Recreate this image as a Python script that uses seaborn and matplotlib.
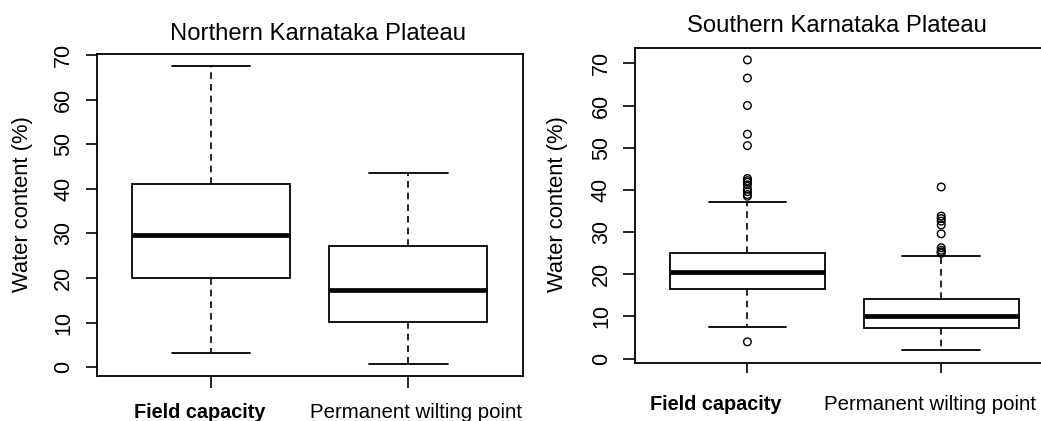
import numpy as np
import pandas as pd
import matplotlib
matplotlib.use("Agg")
import matplotlib.pyplot as plt
import matplotlib.transforms as mtransforms
import seaborn as sns

# ---- data ----
categories = ["Field capacity", "Permanent wilting point"]
# five-number summaries: lower whisker, Q1, median, Q3, upper whisker
north_fc = [3.1, 20.0, 29.7, 41.2, 67.5]
north_pwp = [0.8, 10.2, 17.4, 27.1, 43.6]
south_fc = [7.5, 16.6, 20.6, 25.0, 37.2]
south_pwp = [2.1, 7.2, 10.1, 14.1, 24.4]
north_fc_outliers = []
north_pwp_outliers = []
south_fc_outliers = [4.0, 38.5, 38.9, 39.6, 40.2, 41.2, 41.8, 42.2, 42.7,
                     50.5, 53.2, 60.0, 66.5, 70.8]
south_pwp_outliers = [25.0, 25.3, 25.7, 26.3, 29.6, 31.7, 32.6, 33.2, 33.8, 40.7]
titles = ["Northern Karnataka Plateau", "Southern Karnataka Plateau"]
ylabel = "Water content (%)"
yticks = [0, 10, 20, 30, 40, 50, 60, 70]

sns.set_theme(style="white")
plt.rcParams["font.family"] = ["Liberation Sans", "DejaVu Sans"]
plt.rcParams["text.color"] = "black"
plt.rcParams["axes.labelcolor"] = "black"

fig = plt.figure(figsize=(10.41, 4.21), dpi=100)
W, H = 1041, 421


def px_axes(x0, y0, x1, y1):
    return fig.add_axes([x0 / W, 1 - y1 / H, (x1 - x0) / W, (y1 - y0) / H])


ax1 = px_axes(96.7, 53.7, 522.5, 376.0)
ax2 = px_axes(635.0, 47.7, 1053.6, 362.7)

panels = [
    dict(ax=ax1, boxes=[north_fc, north_pwp], out=[north_fc_outliers, north_pwp_outliers],
         ylim=(-2.0, 70.36), title=titles[0], tx=0.5186, ty=1.0425,
         lx=-0.174, ly=0.534, xtick_len=8.6, xpad=11, ytick_len=7.7, ypad=8.6,
         xoffs=[-11, 8]),
    dict(ax=ax2, boxes=[south_fc, south_pwp], out=[south_fc_outliers, south_pwp_outliers],
         ylim=(-0.95, 73.7), title=titles[1], tx=0.4818, ty=1.05,
         lx=-0.184, ly=0.504, xtick_len=7.4, xpad=16, ytick_len=8.6, ypad=8.0,
         xoffs=[-32, -11]),
]

for p in panels:
    ax = p["ax"]
    box_df = pd.DataFrame({
        "group": [c for c, b in zip(categories, p["boxes"]) for _ in b],
        "value": [v for b in p["boxes"] for v in b],
    })
    sns.boxplot(data=box_df, x="group", y="value", order=categories, ax=ax,
                whis=(0, 100), width=0.8, color="white", linecolor="black",
                linewidth=1.3, showfliers=False,
                medianprops=dict(linewidth=3.4, color="black"),
                whiskerprops=dict(linestyle=(0, (4.0, 3.0)), linewidth=1.2),
                capprops=dict(linewidth=1.3),
                boxprops=dict(linewidth=1.3))
    out_df = pd.DataFrame({
        "group": [c for c, o in zip(categories, p["out"]) for _ in o],
        "value": [v for o in p["out"] for v in o],
    })
    if len(out_df):
        sns.stripplot(data=out_df, x="group", y="value", order=categories, ax=ax,
                      jitter=False, marker="o", size=5.5, color="none",
                      edgecolor="black", linewidth=1.0, zorder=5)
    ax.set_xlim(-0.58, 1.58)
    ax.set_ylim(*p["ylim"])
    ax.set_yticks(yticks)
    ax.set_yticklabels([str(t) for t in yticks])
    ax.set_xlabel("")
    ax.set_ylabel(ylabel, fontsize=15.8, va="center", color="black")
    ax.yaxis.set_label_coords(p["lx"], p["ly"])
    ax.set_title(p["title"], fontsize=17.2, x=p["tx"], y=p["ty"], va="baseline",
                 pad=0, color="black")
    for s in ax.spines.values():
        s.set_visible(True)
        s.set_color("black")
        s.set_linewidth(1.3)
    ax.tick_params(axis="y", which="major", left=True, length=p["ytick_len"],
                   width=1.2, color="black", pad=p["ypad"], labelsize=15.5,
                   labelrotation=90, labelcolor="black")
    ax.tick_params(axis="x", which="major", bottom=True, length=p["xtick_len"],
                   width=1.2, color="black", pad=p["xpad"], labelsize=14.7,
                   labelcolor="black")
    for lbl in ax.get_yticklabels():
        lbl.set_va("center")
    ax.set_xticks([0, 1])
    ax.set_xticklabels(categories)
    xl = ax.get_xticklabels()
    xl[0].set_fontweight("bold")
    xl[0].set_fontsize(14.3)
    for lbl, dx in zip(xl, p["xoffs"]):
        lbl.set_transform(lbl.get_transform() +
                          mtransforms.ScaledTranslation(dx / 100, 0, fig.dpi_scale_trans))
    ax.grid(False)
    ax.set_facecolor("white")

fig.savefig("out.png", dpi=100, facecolor="white")
